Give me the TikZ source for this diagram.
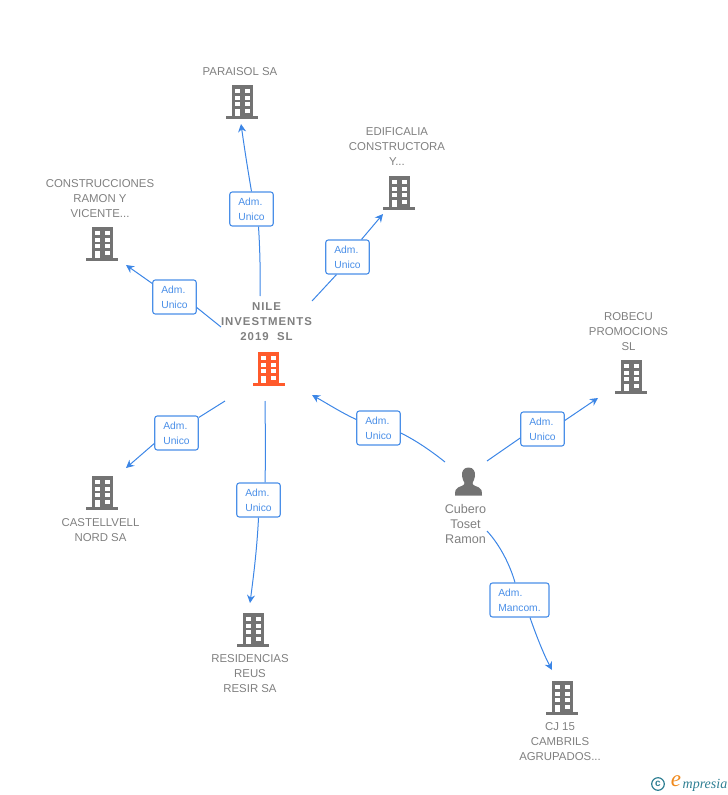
\documentclass[tikz,border=0pt]{standalone}
\usepackage{fontspec}
\setmainfont{Liberation Sans}
\newfontfamily\logofont{Liberation Serif}
\usetikzlibrary{arrows.meta}
\definecolor{bluelink}{HTML}{3C86E6}
\definecolor{boxblue}{HTML}{4A8FE8}
\definecolor{graytxt}{HTML}{808080}
\definecolor{iconcol}{HTML}{737373}
\definecolor{orangeicon}{HTML}{FF5A2B}
\definecolor{logoteal}{HTML}{2F7F93}
\definecolor{logoorange}{HTML}{F08A1D}
\tikzset{
 x=1pt,y=-1pt,
 link/.style={draw=bluelink,line width=1pt},
 arrowlink/.style={link,-{Stealth[length=8pt,width=8pt]}},
 rolebox/.style={draw=boxblue,line width=1.1pt,rounded corners=2.5pt,fill=white,minimum width=43.5pt,minimum height=34pt,inner sep=0pt,text=boxblue,font=\fontsize{10.3}{15}\selectfont},
 nametext/.style={align=center,text=graytxt,inner sep=0pt,font=\fontsize{11.4}{15}\selectfont},
 pics/building/.style={code={
  \fill[#1] (-10.5,0) rectangle (10.5,32);
  \fill[#1] (-16,31) rectangle (16,33.5);
  \foreach \yy in {4,10.7,17.4} {
   \fill[white] (-7.2,\yy) rectangle ++(4.7,3.8);
   \fill[white] (2.8,\yy) rectangle ++(4.7,3.8);
  }
  \fill[white] (-7.2,24) rectangle ++(4.7,7.2);
  \fill[white] (2.8,24) rectangle ++(4.7,3.8);
 }},
}
\begin{document}
\begin{tikzpicture}
\useasboundingbox (0,0) rectangle (728,795);
% icons
\pic (iparaisol) at (242,85) {building=iconcol};
\pic (iedif) at (399,176) {building=iconcol};
\pic (iconstr) at (102,227) {building=iconcol};
\pic (inile) at (268.5,352) {building=orangeicon};
\pic (irobecu) at (631,360) {building=iconcol};
\pic (icastell) at (102,476) {building=iconcol};
\pic (iresid) at (253,613) {building=iconcol};
\pic (icj) at (562,681) {building=iconcol};
% person
\fill[iconcol] (468.5,467.5) .. controls (463.5,467.5) and (461.5,471.5) .. (462,476) .. controls (462.3,479) and (463.5,481) .. (464.5,483) .. controls (464.5,485.5) and (461,486) .. (458,487.5) .. controls (455.5,488.5) and (455,491) .. (455,495.5) -- (482,495.5) .. controls (482,491) and (481.5,488.5) .. (479,487.5) .. controls (476,486) and (472.5,485.5) .. (472.5,483) .. controls (473.5,481) and (474.7,479) .. (475,476) .. controls (475.5,471.5) and (473.5,467.5) .. (468.5,467.5) -- cycle;
% names
\node[nametext] (nparaisol) at (240,71.5) {PARAISOL SA};
\node[nametext] (nedif) at (397,146.5) {EDIFICALIA\\CONSTRUCTORA\\Y...};
\node[nametext] (nconstr) at (100,198.5) {CONSTRUCCIONES\\RAMON Y\\VICENTE...};
\node[nametext,font=\fontsize{11.4}{15}\selectfont\bfseries\addfontfeature{LetterSpace=8.7}] (nnile) at (266.5,321.5) {NILE\\INVESTMENTS\\2019\ \ SL};
\node[nametext] (nrobecu) at (628.5,331.5) {ROBECU\\PROMOCIONS\\SL};
\node[nametext] (ncastell) at (100.5,530) {CASTELLVELL\\NORD SA};
\node[nametext] (nresid) at (250,673.5) {RESIDENCIAS\\REUS\\RESIR SA};
\node[nametext] (ncj) at (560,741.5) {CJ 15\\CAMBRILS\\AGRUPADOS...};
\node[nametext,font=\fontsize{12.6}{15}\selectfont] (ncubero) at (465.5,524) {Cubero\\Toset\\Ramon};
% free ends
\coordinate (a1) at (260,296);
\coordinate (b1) at (241,124);
\coordinate (a2) at (312,301);
\coordinate (b2) at (383,214);
\coordinate (a3) at (221,327);
\coordinate (b3) at (126,265);
\coordinate (a4) at (225,401);
\coordinate (b4) at (126,468);
\coordinate (a5) at (265,401);
\coordinate (b5) at (250,603);
\coordinate (a6) at (445,462);
\coordinate (b6) at (312,395);
\coordinate (a7) at (487,461);
\coordinate (b7) at (598,398);
\coordinate (a8) at (487,531);
\coordinate (b8) at (552,670);
% connectors
\node[rolebox,align=left] (r1) at (251.5,209) {Adm.\\Unico};
\node[rolebox,align=left] (r2) at (347.5,257) {Adm.\\Unico};
\node[rolebox,align=left] (r3) at (174.5,297) {Adm.\\Unico};
\node[rolebox,align=left] (r4) at (176.5,433) {Adm.\\Unico};
\node[rolebox,align=left] (r5) at (258.5,500) {Adm.\\Unico};
\node[rolebox,align=left] (r6) at (378.5,428) {Adm.\\Unico};
\node[rolebox,align=left] (r7) at (542.5,429) {Adm.\\Unico};
\node[rolebox,align=left,minimum width=59pt] (r8) at (519.5,600) {Adm.\\Mancom.};
\draw[link] (a1) .. controls (260.5,275) and (260,250) .. ([xshift=7pt]r1.south);
\draw[arrowlink] (r1.north) .. controls (247,165) and (244,145) .. (b1);
\draw[link] (a2) -- ([xshift=-11pt]r2.south);
\draw[arrowlink] ([xshift=14pt]r2.north) -- (b2);
\draw[link] (a3) -- ([yshift=7pt]r3.south east);
\draw[arrowlink] ([yshift=-4pt]r3.north west) -- (b3);
\draw[link] (a4) -- ([yshift=-2pt]r4.north east);
\draw[arrowlink] ([yshift=7pt]r4.south west) -- (b4);
\draw[link] (a5) .. controls (265.5,440) and (265.5,465) .. ([xshift=6.5pt]r5.north);
\draw[arrowlink] (r5.south) .. controls (257,550) and (253,580) .. (b5);
\draw[link] (a6) .. controls (430,450) and (415,440) .. ([yshift=-5pt]r6.east);
\draw[arrowlink] ([yshift=-9pt]r6.north west) .. controls (342,413) and (328,404) .. (b6);
\draw[link] (a7) -- ([yshift=-9pt]r7.west);
\draw[arrowlink] ([yshift=-9pt]r7.north east) -- (b7);
\draw[link] (a8) .. controls (500,545) and (510,565) .. ([xshift=-4.5pt]r8.north);
\draw[arrowlink] ([xshift=10.5pt]r8.south) .. controls (536,635) and (544,655) .. (b8);
% logo
\draw[logoteal,line width=1.2pt] (658,784) circle (6.3);
\node[text=logoteal,inner sep=0pt,font=\fontsize{10}{10}\selectfont\bfseries] (lc) at (658,783.7) {c};
\node[text=logoorange,inner sep=0pt,font=\logofont\fontsize{23}{23}\selectfont\itshape] (le) at (676,781.5) {e};
\node[text=logoteal,inner sep=0pt,anchor=west,font=\logofont\fontsize{14}{12}\selectfont\itshape] (lm) at (682.5,785) {mpresia};
\end{tikzpicture}
\end{document}
